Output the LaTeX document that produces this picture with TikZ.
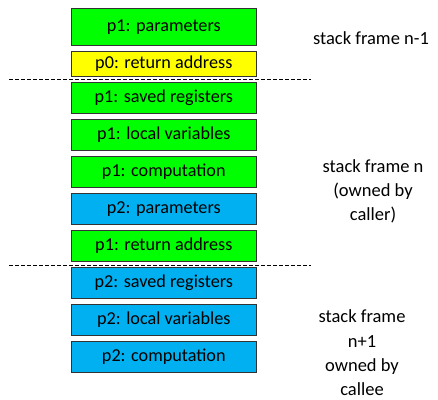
\documentclass[tikz,border=0pt]{standalone}
\usepackage{fontspec}
\setmainfont{Carlito}
\definecolor{cgreen}{HTML}{00FF00}
\definecolor{cyellow}{HTML}{FFFF00}
\definecolor{cblue}{HTML}{00B0F0}
\begin{document}
\begin{tikzpicture}[x=1pt,y=-1pt,
  slot/.style={draw=black!80,line width=0.9pt,minimum width=185pt,inner sep=0pt,
    font=\fontsize{18.2}{20}\selectfont,anchor=center},
  greenslot/.style={slot,fill=cgreen},
  yellowslot/.style={slot,fill=cyellow},
  blueslot/.style={slot,fill=cblue},
  framelabel/.style={align=center,font=\fontsize{18.5}{24.3}\selectfont,inner sep=0pt},
  divider/.style={line width=0.8pt,dash pattern=on 3.5pt off 2.5pt}]
\useasboundingbox (0,0) rectangle (438,399);
% stack slots, top to bottom
\node[greenslot,minimum height=36.7pt]  (s1)  at (163.8,26.7)  {p1: parameters};
\node[yellowslot,minimum height=25pt]   (s2)  at (163.8,63.8)  {p0: return address};
\node[greenslot,minimum height=30.6pt]  (s3)  at (163.8,98)    {p1: saved registers};
\node[greenslot,minimum height=30.7pt]  (s4)  at (163.8,134.7) {p1: local variables};
\node[greenslot,minimum height=30.6pt]  (s5)  at (163.8,172)   {p1: computation};
\node[blueslot,minimum height=31pt]     (s6)  at (163.8,208.8) {p2: parameters};
\node[greenslot,minimum height=31pt]    (s7)  at (163.8,245.8) {p1: return address};
\node[blueslot,minimum height=30.6pt]   (s8)  at (163.8,283)   {p2: saved registers};
\node[blueslot,minimum height=31pt]     (s9)  at (163.8,319.8) {p2: local variables};
\node[blueslot,minimum height=31pt]     (s10) at (163.8,356.8) {p2: computation};
% frame boundaries
\coordinate (b1l) at (9,79);
\coordinate (b1r) at (311,79);
\coordinate (b2l) at (9,265);
\coordinate (b2r) at (311,265);
\draw[divider] (b1l) -- (b1r);
\draw[divider] (b2l) -- (b2r);
% frame labels
\node[framelabel] (f1) at (371,38) {stack frame n-1};
\node[framelabel] (f2) at (373,191.5) {stack frame n\\(owned by\\caller)};
\node[framelabel] (f3) at (362,353) {stack frame\\n+1\\owned by\\callee};
\end{tikzpicture}
\end{document}
